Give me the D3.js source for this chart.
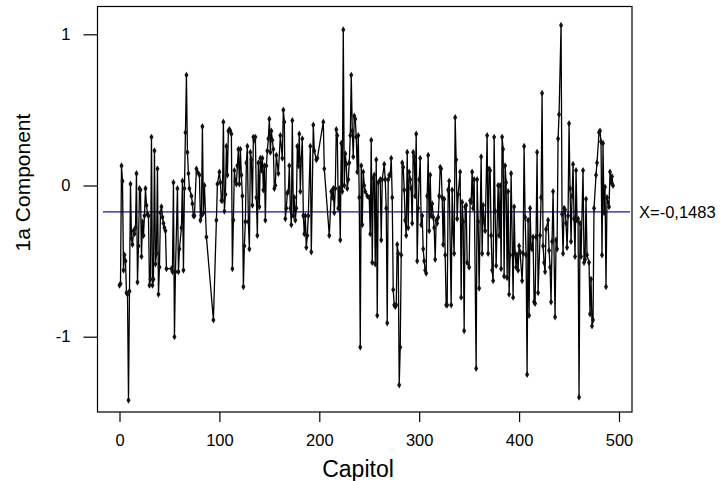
<!DOCTYPE html>
<html><head><meta charset="utf-8">
<script src="https://cdn.jsdelivr.net/npm/d3@7"></script>
<style>body{margin:0;background:#fff}</style>
</head><body><svg id="c" width="723" height="481"></svg>
<script>
const chapters = [0,1,2,3,4,5,6,7,8,9,10,11,12,13,14,15,16,17,18,19,20,21,22,23,24,25,26,27,28,29,30,31,32,33,34,35,36,37,38,39,40,41,42,43,44,45,46,47,52,53,54,55,
56,58,59,60,62,63,64,65,66,67,68,69,70,72,73,74,75,77,78,80,81,82,83,84,85,87,94,97,98,100,101,102,103,104,105,106,107,108,109,
110,111,112,113,114,115,116,117,118,119,120,121,122,123,124,125,126,127,128,129,130,131,132,133,134,135,136,137,138,139,140,141,142,143,144,145,146,147,148,149,150,151,152,153,154,155,156,157,159,161,163,164,
165,166,167,168,169,170,171,172,173,174,175,176,177,178,179,180,181,182,183,184,185,186,187,188,189,191,192,194,195,197,198,204,205,210,212,213,214,215,216,217,218,219,
220,221,222,223,224,225,226,227,228,229,230,231,232,233,234,235,236,237,238,239,240,241,242,243,244,245,246,248,250,251,252,253,254,255,256,257,258,259,261,262,263,265,266,267,268,269,270,271,272,273,274,275,
276,277,278,279,280,281,282,283,284,285,286,287,288,289,290,291,292,293,294,295,296,297,298,299,300,301,302,303,304,305,306,307,308,309,310,311,312,313,314,315,316,317,318,319,320,321,322,323,324,325,326,327,328,329,330,
332,333,334,335,336,337,338,339,341,342,343,344,345,346,347,348,350,351,352,353,354,355,357,358,359,360,362,363,364,365,366,368,369,370,371,372,373,374,375,376,377,379,380,381,382,
383,384,385,386,387,388,389,390,391,392,394,395,396,397,398,399,400,401,403,404,405,406,407,408,409,410,411,412,413,414,415,416,417,418,419,421,422,423,424,425,426,427,429,430,431,432,433,434,436,437,438,439,440,
442,443,444,445,446,447,448,449,450,451,452,453,454,455,456,457,458,459,460,461,462,464,465,466,467,468,470,471,472,473,474,475,477,478,480,481,482,483,484,485,486,487,488,490,491,492,493,494];
const values = [-0.66,-0.65,0.13,0.03,-0.56,-0.46,-0.50,-0.71,-0.72,-1.42,-0.70,0.01,-0.35,-0.39,-0.30,-0.32,-0.28,0.08,-0.64,-0.40,-0.02,-0.03,-0.47,-0.24,-0.33,-0.20,-0.02,-0.13,-0.19,-0.20,-0.66,-0.62,0.32,-0.66,-0.62,0.23,-0.52,-0.45,0.11,-0.72,-0.54,-0.18,-0.14,-0.21,-0.25,-0.28,-0.30,-0.55,-0.55,-0.57,0.02,-1.00,
-0.57,-0.02,-0.57,-0.42,-0.28,0.03,-0.56,-0.02,0.35,0.73,0.22,0.08,-0.02,-0.07,-0.12,-0.20,-0.20,0.11,0.09,0.07,-0.23,-0.20,0.39,-0.18,0.00,-0.34,-0.89,-0.23,0.01,0.09,0.02,-0.10,-0.10,0.42,-0.17,-0.06,0.26,0.07,0.36,
0.37,0.36,0.34,-0.55,-0.23,0.10,0.03,0.01,0.13,0.24,0.01,0.24,0.07,-0.07,-0.67,-0.40,-0.24,0.15,0.26,-0.24,-0.42,0.22,0.17,-0.13,0.32,0.30,0.32,-0.08,-0.33,0.15,-0.14,0.18,0.10,0.18,-0.03,0.13,-0.23,0.13,0.23,0.31,0.44,0.22,0.36,0.30,0.24,-0.02,0.00,0.20,0.08,0.33,0.18,0.50,
0.42,-0.22,-0.15,-0.05,-0.04,0.13,-0.15,-0.26,0.43,-0.20,-0.08,-0.23,-0.15,0.26,0.13,0.34,-0.04,0.18,0.31,-0.20,-0.32,-0.20,-0.41,-0.33,-0.20,0.26,-0.44,0.40,0.23,0.17,0.18,0.42,0.11,-0.33,-0.04,-0.08,-0.02,-0.18,-0.02,0.37,0.33,-0.15,
-0.02,-0.36,0.28,-0.04,1.03,0.00,0.21,0.14,-0.02,0.04,0.15,0.33,0.73,0.36,0.19,0.46,0.44,0.32,0.09,0.33,-0.08,-1.07,0.13,-0.26,0.09,0.00,-0.04,-0.07,-0.08,-0.32,0.30,-0.51,0.05,0.07,-0.52,0.17,-0.86,0.02,0.04,-0.36,0.04,0.14,0.04,-0.15,-0.91,0.04,0.07,0.07,0.18,-0.08,-0.69,-0.79,
-0.80,-0.79,-0.39,-0.45,-1.32,-1.07,-0.46,0.15,0.12,-0.03,-0.23,-0.33,0.22,-0.28,0.09,0.04,-0.02,-0.25,0.22,0.19,-0.07,0.34,-0.50,-0.15,0.04,0.18,-0.26,-0.20,-0.42,-0.50,-0.56,-0.58,-0.07,0.20,-0.30,0.07,-0.20,-0.12,-0.21,-0.28,-0.49,-0.23,-0.25,-0.21,-0.07,0.12,0.11,-0.08,-0.39,-0.09,-0.46,-0.79,-0.79,-0.03,0.03,
-0.79,-0.03,-0.31,-0.45,0.45,0.17,-0.22,-0.06,0.09,-0.74,-0.11,-0.24,-0.96,-0.14,-0.13,-0.51,-0.54,-0.10,-0.11,0.09,-0.15,0.04,-1.21,0.04,-0.24,-0.68,0.19,-0.45,-0.13,-0.24,-0.30,0.33,-0.45,0.11,0.10,-0.33,-0.56,-0.63,0.32,-0.17,-0.53,0.00,-0.33,0.00,-0.55,
0.32,0.24,-0.60,0.13,0.02,-0.61,-0.04,-0.72,-0.46,0.08,-0.74,-0.14,-0.45,-0.54,-0.46,-0.56,-0.40,-0.44,-0.63,-0.45,0.26,-0.21,-0.46,-1.25,-0.23,-0.86,-0.15,-0.41,-0.42,-0.34,-0.77,-0.78,-0.34,0.22,-0.71,-0.33,-0.08,0.61,-0.40,-0.51,-0.57,-0.29,-0.23,-0.43,-0.54,-0.77,-0.37,-0.04,-0.87,-0.36,-0.42,0.31,0.47,
1.06,-0.19,-0.45,-0.15,-0.16,-0.25,-0.41,-0.20,0.41,-0.02,-0.37,-0.07,0.14,-0.22,-0.47,0.10,-0.23,-0.22,-1.40,-0.25,-0.47,0.10,-0.51,-0.49,-0.09,-0.46,-0.51,-0.85,-0.62,-0.93,-0.89,-0.15,0.07,0.15,0.35,0.36,0.29,-0.46,0.28,-0.18,-0.01,-0.67,-0.08,-0.14,0.09,0.02,0.06,0.00];
const xTicks = [0,100,200,300,400,500];
const yTicks = [-1,0,1];
const meanValue = -0.174;
const meanLabel = "X=-0,1483";
const xTitle = "Capitol";
const yTitle = "1a Component";

const FONT = "'Liberation Sans', Arial, Helvetica, sans-serif";
const svg = d3.select("#c");
const L = 97.5, R = 632, T = 6.5, B = 412;
const x = d3.scaleLinear().domain([0, 500]).range([119.5, 619]);
const y = d3.scaleLinear().domain([-1, 1]).range([336.7, 34.3]);

const pts = chapters.map((c, i) => [c, values[i]]);

svg.append("line")
  .attr("x1", x(-16.5)).attr("x2", x(511))
  .attr("y1", y(meanValue)).attr("y2", y(meanValue))
  .attr("stroke", "#1010c8").attr("stroke-width", 1.2);

svg.append("path")
  .datum(pts)
  .attr("fill", "none")
  .attr("stroke", "#000")
  .attr("stroke-width", 1.3)
  .attr("stroke-linejoin", "round")
  .attr("d", d3.line().x(d => x(d[0])).y(d => y(d[1])));

svg.append("g").selectAll("path")
  .data(pts).join("path")
  .attr("transform", d => `translate(${x(d[0])},${y(d[1])})`)
  .attr("d", d3.symbol(d3.symbolDiamond, 14))
  .attr("fill", "#111");

svg.append("rect")
  .attr("x", L).attr("y", T).attr("width", R - L).attr("height", B - T)
  .attr("fill", "none").attr("stroke", "#000").attr("stroke-width", 1.2);

const gx = svg.append("g").attr("transform", `translate(0,${B})`)
  .call(d3.axisBottom(x).tickValues(xTicks).tickSize(10).tickPadding(12).tickFormat(String));
const gy = svg.append("g").attr("transform", `translate(${L},0)`)
  .call(d3.axisLeft(y).tickValues(yTicks).tickSize(14).tickPadding(13).tickFormat(String));
[gx, gy].forEach(g => {
  g.select(".domain").remove();
  g.selectAll("line").attr("stroke", "#000").attr("stroke-width", 1.2);
  g.selectAll("text").attr("font-family", FONT).attr("font-size", 16.5).attr("fill", "#000");
});

svg.append("text")
  .attr("x", R + 7).attr("y", y(meanValue) + 6)
  .attr("font-family", FONT).attr("font-size", 16.5).attr("fill", "#000")
  .text(meanLabel);

svg.append("text")
  .attr("x", 358).attr("y", 477).attr("text-anchor", "middle")
  .attr("font-family", FONT).attr("font-size", 23).attr("fill", "#000")
  .text(xTitle);

svg.append("text")
  .attr("transform", "translate(30,182.5) rotate(-90)").attr("text-anchor", "middle")
  .attr("font-family", FONT).attr("font-size", 21).attr("fill", "#000")
  .text(yTitle);
</script>
</body></html>
